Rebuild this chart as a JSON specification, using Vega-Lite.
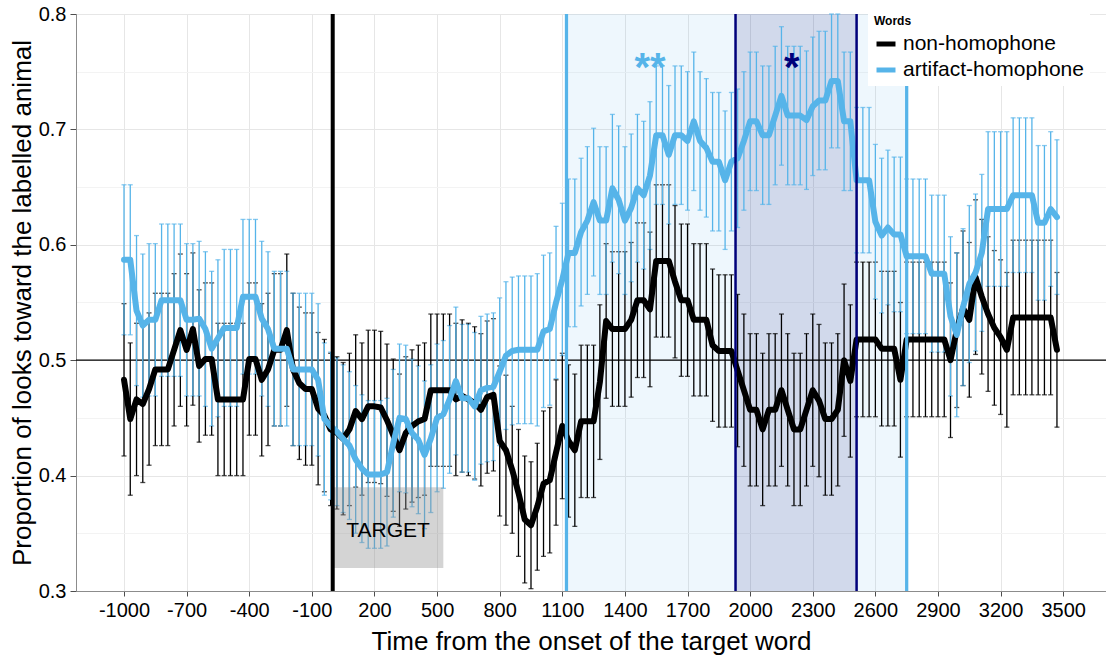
{
  "$schema": "https://vega.github.io/schema/vega-lite/v6.json",
  "width": 1030,
  "height": 577,
  "autosize": {"type": "none"},
  "padding": {"left": 76, "top": 14, "right": 0, "bottom": 65},
  "background": "white",
  "config": {
    "font": "Liberation Sans",
    "view": {"stroke": "#8c8c8c", "strokeWidth": 1},
    "axis": {
      "domainColor": "#8c8c8c",
      "tickColor": "#4d4d4d",
      "labelColor": "#000000",
      "titleColor": "#000000",
      "labelFontSize": 20,
      "titleFontSize": 26,
      "titleFontWeight": "normal",
      "gridWidth": 1
    },
    "legend": {
      "orient": "none",
      "legendX": 792,
      "legendY": -4,
      "fillColor": "white",
      "padding": 6,
      "titleFontSize": 12,
      "titleFontWeight": "bold",
      "titleColor": "#000000",
      "titlePadding": 4,
      "labelFontSize": 21,
      "labelLimit": 0,
      "labelColor": "#000000",
      "labelOffset": 5,
      "symbolType": "stroke",
      "symbolStrokeWidth": 5,
      "symbolSize": 360,
      "rowPadding": 4
    }
  },
  "datasets": {
    "series": [
      {"time": -1000, "words": "non-homophone", "prop": 0.483, "se": 0.066},
      {"time": -970, "words": "non-homophone", "prop": 0.449, "se": 0.066},
      {"time": -940, "words": "non-homophone", "prop": 0.466, "se": 0.066},
      {"time": -910, "words": "non-homophone", "prop": 0.462, "se": 0.068},
      {"time": -880, "words": "non-homophone", "prop": 0.475, "se": 0.066},
      {"time": -850, "words": "non-homophone", "prop": 0.492, "se": 0.066},
      {"time": -820, "words": "non-homophone", "prop": 0.492, "se": 0.066},
      {"time": -790, "words": "non-homophone", "prop": 0.492, "se": 0.066},
      {"time": -760, "words": "non-homophone", "prop": 0.509, "se": 0.066},
      {"time": -730, "words": "non-homophone", "prop": 0.526, "se": 0.066},
      {"time": -700, "words": "non-homophone", "prop": 0.509, "se": 0.066},
      {"time": -670, "words": "non-homophone", "prop": 0.527, "se": 0.066},
      {"time": -640, "words": "non-homophone", "prop": 0.495, "se": 0.066},
      {"time": -610, "words": "non-homophone", "prop": 0.501, "se": 0.066},
      {"time": -580, "words": "non-homophone", "prop": 0.501, "se": 0.066},
      {"time": -550, "words": "non-homophone", "prop": 0.466, "se": 0.066},
      {"time": -520, "words": "non-homophone", "prop": 0.466, "se": 0.066},
      {"time": -490, "words": "non-homophone", "prop": 0.466, "se": 0.066},
      {"time": -460, "words": "non-homophone", "prop": 0.466, "se": 0.066},
      {"time": -430, "words": "non-homophone", "prop": 0.466, "se": 0.066},
      {"time": -400, "words": "non-homophone", "prop": 0.501, "se": 0.066},
      {"time": -370, "words": "non-homophone", "prop": 0.501, "se": 0.066},
      {"time": -340, "words": "non-homophone", "prop": 0.483, "se": 0.066},
      {"time": -310, "words": "non-homophone", "prop": 0.492, "se": 0.066},
      {"time": -280, "words": "non-homophone", "prop": 0.509, "se": 0.066},
      {"time": -250, "words": "non-homophone", "prop": 0.509, "se": 0.066},
      {"time": -220, "words": "non-homophone", "prop": 0.526, "se": 0.066},
      {"time": -190, "words": "non-homophone", "prop": 0.492, "se": 0.066},
      {"time": -160, "words": "non-homophone", "prop": 0.480, "se": 0.066},
      {"time": -130, "words": "non-homophone", "prop": 0.475, "se": 0.066},
      {"time": -100, "words": "non-homophone", "prop": 0.475, "se": 0.066},
      {"time": -70, "words": "non-homophone", "prop": 0.458, "se": 0.066},
      {"time": -40, "words": "non-homophone", "prop": 0.452, "se": 0.066},
      {"time": -10, "words": "non-homophone", "prop": 0.440, "se": 0.066},
      {"time": 20, "words": "non-homophone", "prop": 0.437, "se": 0.066},
      {"time": 50, "words": "non-homophone", "prop": 0.432, "se": 0.066},
      {"time": 80, "words": "non-homophone", "prop": 0.440, "se": 0.066},
      {"time": 110, "words": "non-homophone", "prop": 0.456, "se": 0.066},
      {"time": 140, "words": "non-homophone", "prop": 0.449, "se": 0.066},
      {"time": 170, "words": "non-homophone", "prop": 0.460, "se": 0.066},
      {"time": 200, "words": "non-homophone", "prop": 0.460, "se": 0.066},
      {"time": 230, "words": "non-homophone", "prop": 0.459, "se": 0.066},
      {"time": 260, "words": "non-homophone", "prop": 0.448, "se": 0.066},
      {"time": 290, "words": "non-homophone", "prop": 0.435, "se": 0.066},
      {"time": 320, "words": "non-homophone", "prop": 0.422, "se": 0.066},
      {"time": 350, "words": "non-homophone", "prop": 0.437, "se": 0.066},
      {"time": 380, "words": "non-homophone", "prop": 0.443, "se": 0.066},
      {"time": 410, "words": "non-homophone", "prop": 0.447, "se": 0.066},
      {"time": 440, "words": "non-homophone", "prop": 0.449, "se": 0.066},
      {"time": 470, "words": "non-homophone", "prop": 0.474, "se": 0.066},
      {"time": 500, "words": "non-homophone", "prop": 0.474, "se": 0.066},
      {"time": 530, "words": "non-homophone", "prop": 0.474, "se": 0.066},
      {"time": 560, "words": "non-homophone", "prop": 0.474, "se": 0.066},
      {"time": 590, "words": "non-homophone", "prop": 0.466, "se": 0.066},
      {"time": 620, "words": "non-homophone", "prop": 0.469, "se": 0.066},
      {"time": 650, "words": "non-homophone", "prop": 0.466, "se": 0.066},
      {"time": 680, "words": "non-homophone", "prop": 0.463, "se": 0.066},
      {"time": 710, "words": "non-homophone", "prop": 0.457, "se": 0.066},
      {"time": 740, "words": "non-homophone", "prop": 0.468, "se": 0.066},
      {"time": 770, "words": "non-homophone", "prop": 0.470, "se": 0.066},
      {"time": 800, "words": "non-homophone", "prop": 0.430, "se": 0.065},
      {"time": 830, "words": "non-homophone", "prop": 0.422, "se": 0.065},
      {"time": 860, "words": "non-homophone", "prop": 0.405, "se": 0.055},
      {"time": 890, "words": "non-homophone", "prop": 0.385, "se": 0.055},
      {"time": 920, "words": "non-homophone", "prop": 0.362, "se": 0.055},
      {"time": 950, "words": "non-homophone", "prop": 0.357, "se": 0.055},
      {"time": 980, "words": "non-homophone", "prop": 0.373, "se": 0.055},
      {"time": 1010, "words": "non-homophone", "prop": 0.393, "se": 0.063},
      {"time": 1040, "words": "non-homophone", "prop": 0.396, "se": 0.063},
      {"time": 1070, "words": "non-homophone", "prop": 0.420, "se": 0.063},
      {"time": 1100, "words": "non-homophone", "prop": 0.443, "se": 0.063},
      {"time": 1130, "words": "non-homophone", "prop": 0.430, "se": 0.066},
      {"time": 1160, "words": "non-homophone", "prop": 0.422, "se": 0.066},
      {"time": 1190, "words": "non-homophone", "prop": 0.447, "se": 0.066},
      {"time": 1220, "words": "non-homophone", "prop": 0.447, "se": 0.066},
      {"time": 1250, "words": "non-homophone", "prop": 0.447, "se": 0.066},
      {"time": 1280, "words": "non-homophone", "prop": 0.481, "se": 0.067},
      {"time": 1310, "words": "non-homophone", "prop": 0.534, "se": 0.067},
      {"time": 1340, "words": "non-homophone", "prop": 0.527, "se": 0.067},
      {"time": 1370, "words": "non-homophone", "prop": 0.527, "se": 0.067},
      {"time": 1400, "words": "non-homophone", "prop": 0.527, "se": 0.067},
      {"time": 1430, "words": "non-homophone", "prop": 0.535, "se": 0.067},
      {"time": 1460, "words": "non-homophone", "prop": 0.552, "se": 0.067},
      {"time": 1490, "words": "non-homophone", "prop": 0.552, "se": 0.067},
      {"time": 1520, "words": "non-homophone", "prop": 0.544, "se": 0.067},
      {"time": 1550, "words": "non-homophone", "prop": 0.586, "se": 0.066},
      {"time": 1580, "words": "non-homophone", "prop": 0.586, "se": 0.066},
      {"time": 1610, "words": "non-homophone", "prop": 0.586, "se": 0.066},
      {"time": 1640, "words": "non-homophone", "prop": 0.568, "se": 0.066},
      {"time": 1670, "words": "non-homophone", "prop": 0.552, "se": 0.066},
      {"time": 1700, "words": "non-homophone", "prop": 0.552, "se": 0.066},
      {"time": 1730, "words": "non-homophone", "prop": 0.535, "se": 0.066},
      {"time": 1760, "words": "non-homophone", "prop": 0.535, "se": 0.066},
      {"time": 1790, "words": "non-homophone", "prop": 0.535, "se": 0.066},
      {"time": 1820, "words": "non-homophone", "prop": 0.513, "se": 0.066},
      {"time": 1850, "words": "non-homophone", "prop": 0.508, "se": 0.066},
      {"time": 1880, "words": "non-homophone", "prop": 0.508, "se": 0.066},
      {"time": 1910, "words": "non-homophone", "prop": 0.508, "se": 0.066},
      {"time": 1940, "words": "non-homophone", "prop": 0.491, "se": 0.066},
      {"time": 1970, "words": "non-homophone", "prop": 0.474, "se": 0.066},
      {"time": 2000, "words": "non-homophone", "prop": 0.457, "se": 0.066},
      {"time": 2030, "words": "non-homophone", "prop": 0.457, "se": 0.066},
      {"time": 2060, "words": "non-homophone", "prop": 0.440, "se": 0.066},
      {"time": 2090, "words": "non-homophone", "prop": 0.457, "se": 0.066},
      {"time": 2120, "words": "non-homophone", "prop": 0.457, "se": 0.066},
      {"time": 2150, "words": "non-homophone", "prop": 0.474, "se": 0.066},
      {"time": 2180, "words": "non-homophone", "prop": 0.457, "se": 0.066},
      {"time": 2210, "words": "non-homophone", "prop": 0.440, "se": 0.066},
      {"time": 2240, "words": "non-homophone", "prop": 0.440, "se": 0.066},
      {"time": 2270, "words": "non-homophone", "prop": 0.457, "se": 0.066},
      {"time": 2300, "words": "non-homophone", "prop": 0.474, "se": 0.066},
      {"time": 2330, "words": "non-homophone", "prop": 0.465, "se": 0.066},
      {"time": 2360, "words": "non-homophone", "prop": 0.449, "se": 0.066},
      {"time": 2390, "words": "non-homophone", "prop": 0.449, "se": 0.066},
      {"time": 2420, "words": "non-homophone", "prop": 0.457, "se": 0.066},
      {"time": 2450, "words": "non-homophone", "prop": 0.500, "se": 0.066},
      {"time": 2480, "words": "non-homophone", "prop": 0.482, "se": 0.066},
      {"time": 2510, "words": "non-homophone", "prop": 0.518, "se": 0.067},
      {"time": 2540, "words": "non-homophone", "prop": 0.518, "se": 0.067},
      {"time": 2570, "words": "non-homophone", "prop": 0.518, "se": 0.067},
      {"time": 2600, "words": "non-homophone", "prop": 0.518, "se": 0.067},
      {"time": 2630, "words": "non-homophone", "prop": 0.510, "se": 0.067},
      {"time": 2660, "words": "non-homophone", "prop": 0.510, "se": 0.067},
      {"time": 2690, "words": "non-homophone", "prop": 0.510, "se": 0.067},
      {"time": 2720, "words": "non-homophone", "prop": 0.483, "se": 0.067},
      {"time": 2750, "words": "non-homophone", "prop": 0.518, "se": 0.067},
      {"time": 2780, "words": "non-homophone", "prop": 0.518, "se": 0.067},
      {"time": 2810, "words": "non-homophone", "prop": 0.518, "se": 0.067},
      {"time": 2840, "words": "non-homophone", "prop": 0.518, "se": 0.067},
      {"time": 2870, "words": "non-homophone", "prop": 0.518, "se": 0.067},
      {"time": 2900, "words": "non-homophone", "prop": 0.518, "se": 0.067},
      {"time": 2930, "words": "non-homophone", "prop": 0.518, "se": 0.067},
      {"time": 2960, "words": "non-homophone", "prop": 0.500, "se": 0.067},
      {"time": 2990, "words": "non-homophone", "prop": 0.526, "se": 0.067},
      {"time": 3020, "words": "non-homophone", "prop": 0.545, "se": 0.067},
      {"time": 3050, "words": "non-homophone", "prop": 0.535, "se": 0.067},
      {"time": 3080, "words": "non-homophone", "prop": 0.572, "se": 0.067},
      {"time": 3110, "words": "non-homophone", "prop": 0.555, "se": 0.067},
      {"time": 3140, "words": "non-homophone", "prop": 0.540, "se": 0.067},
      {"time": 3170, "words": "non-homophone", "prop": 0.528, "se": 0.067},
      {"time": 3200, "words": "non-homophone", "prop": 0.520, "se": 0.067},
      {"time": 3230, "words": "non-homophone", "prop": 0.509, "se": 0.067},
      {"time": 3260, "words": "non-homophone", "prop": 0.537, "se": 0.067},
      {"time": 3290, "words": "non-homophone", "prop": 0.537, "se": 0.067},
      {"time": 3320, "words": "non-homophone", "prop": 0.537, "se": 0.067},
      {"time": 3350, "words": "non-homophone", "prop": 0.537, "se": 0.067},
      {"time": 3380, "words": "non-homophone", "prop": 0.537, "se": 0.067},
      {"time": 3410, "words": "non-homophone", "prop": 0.537, "se": 0.067},
      {"time": 3440, "words": "non-homophone", "prop": 0.537, "se": 0.067},
      {"time": 3470, "words": "non-homophone", "prop": 0.509, "se": 0.067},

      {"time": -1000, "words": "artifact-homophone", "prop": 0.587, "se": 0.065},
      {"time": -970, "words": "artifact-homophone", "prop": 0.587, "se": 0.065},
      {"time": -940, "words": "artifact-homophone", "prop": 0.543, "se": 0.065},
      {"time": -910, "words": "artifact-homophone", "prop": 0.530, "se": 0.062},
      {"time": -880, "words": "artifact-homophone", "prop": 0.535, "se": 0.066},
      {"time": -850, "words": "artifact-homophone", "prop": 0.535, "se": 0.066},
      {"time": -820, "words": "artifact-homophone", "prop": 0.552, "se": 0.066},
      {"time": -790, "words": "artifact-homophone", "prop": 0.552, "se": 0.066},
      {"time": -760, "words": "artifact-homophone", "prop": 0.552, "se": 0.066},
      {"time": -730, "words": "artifact-homophone", "prop": 0.552, "se": 0.066},
      {"time": -700, "words": "artifact-homophone", "prop": 0.535, "se": 0.066},
      {"time": -670, "words": "artifact-homophone", "prop": 0.535, "se": 0.066},
      {"time": -640, "words": "artifact-homophone", "prop": 0.536, "se": 0.067},
      {"time": -610, "words": "artifact-homophone", "prop": 0.527, "se": 0.067},
      {"time": -580, "words": "artifact-homophone", "prop": 0.510, "se": 0.067},
      {"time": -550, "words": "artifact-homophone", "prop": 0.519, "se": 0.068},
      {"time": -520, "words": "artifact-homophone", "prop": 0.528, "se": 0.068},
      {"time": -490, "words": "artifact-homophone", "prop": 0.528, "se": 0.068},
      {"time": -460, "words": "artifact-homophone", "prop": 0.528, "se": 0.068},
      {"time": -430, "words": "artifact-homophone", "prop": 0.555, "se": 0.067},
      {"time": -400, "words": "artifact-homophone", "prop": 0.555, "se": 0.067},
      {"time": -370, "words": "artifact-homophone", "prop": 0.555, "se": 0.067},
      {"time": -340, "words": "artifact-homophone", "prop": 0.536, "se": 0.067},
      {"time": -310, "words": "artifact-homophone", "prop": 0.527, "se": 0.067},
      {"time": -280, "words": "artifact-homophone", "prop": 0.510, "se": 0.067},
      {"time": -250, "words": "artifact-homophone", "prop": 0.510, "se": 0.067},
      {"time": -220, "words": "artifact-homophone", "prop": 0.510, "se": 0.067},
      {"time": -190, "words": "artifact-homophone", "prop": 0.492, "se": 0.066},
      {"time": -160, "words": "artifact-homophone", "prop": 0.492, "se": 0.066},
      {"time": -130, "words": "artifact-homophone", "prop": 0.492, "se": 0.066},
      {"time": -100, "words": "artifact-homophone", "prop": 0.492, "se": 0.066},
      {"time": -70, "words": "artifact-homophone", "prop": 0.483, "se": 0.066},
      {"time": -40, "words": "artifact-homophone", "prop": 0.449, "se": 0.066},
      {"time": -10, "words": "artifact-homophone", "prop": 0.443, "se": 0.064},
      {"time": 20, "words": "artifact-homophone", "prop": 0.438, "se": 0.064},
      {"time": 50, "words": "artifact-homophone", "prop": 0.432, "se": 0.064},
      {"time": 80, "words": "artifact-homophone", "prop": 0.426, "se": 0.064},
      {"time": 110, "words": "artifact-homophone", "prop": 0.414, "se": 0.064},
      {"time": 140, "words": "artifact-homophone", "prop": 0.406, "se": 0.064},
      {"time": 170, "words": "artifact-homophone", "prop": 0.401, "se": 0.064},
      {"time": 200, "words": "artifact-homophone", "prop": 0.401, "se": 0.064},
      {"time": 230, "words": "artifact-homophone", "prop": 0.401, "se": 0.064},
      {"time": 260, "words": "artifact-homophone", "prop": 0.403, "se": 0.064},
      {"time": 290, "words": "artifact-homophone", "prop": 0.428, "se": 0.064},
      {"time": 320, "words": "artifact-homophone", "prop": 0.450, "se": 0.064},
      {"time": 350, "words": "artifact-homophone", "prop": 0.449, "se": 0.064},
      {"time": 380, "words": "artifact-homophone", "prop": 0.437, "se": 0.064},
      {"time": 410, "words": "artifact-homophone", "prop": 0.431, "se": 0.064},
      {"time": 440, "words": "artifact-homophone", "prop": 0.418, "se": 0.064},
      {"time": 470, "words": "artifact-homophone", "prop": 0.432, "se": 0.064},
      {"time": 500, "words": "artifact-homophone", "prop": 0.450, "se": 0.064},
      {"time": 530, "words": "artifact-homophone", "prop": 0.453, "se": 0.064},
      {"time": 560, "words": "artifact-homophone", "prop": 0.466, "se": 0.064},
      {"time": 590, "words": "artifact-homophone", "prop": 0.482, "se": 0.064},
      {"time": 620, "words": "artifact-homophone", "prop": 0.467, "se": 0.064},
      {"time": 650, "words": "artifact-homophone", "prop": 0.467, "se": 0.064},
      {"time": 680, "words": "artifact-homophone", "prop": 0.460, "se": 0.064},
      {"time": 710, "words": "artifact-homophone", "prop": 0.474, "se": 0.064},
      {"time": 740, "words": "artifact-homophone", "prop": 0.476, "se": 0.064},
      {"time": 770, "words": "artifact-homophone", "prop": 0.477, "se": 0.064},
      {"time": 800, "words": "artifact-homophone", "prop": 0.490, "se": 0.064},
      {"time": 830, "words": "artifact-homophone", "prop": 0.504, "se": 0.064},
      {"time": 860, "words": "artifact-homophone", "prop": 0.508, "se": 0.064},
      {"time": 890, "words": "artifact-homophone", "prop": 0.509, "se": 0.064},
      {"time": 920, "words": "artifact-homophone", "prop": 0.509, "se": 0.064},
      {"time": 950, "words": "artifact-homophone", "prop": 0.509, "se": 0.064},
      {"time": 980, "words": "artifact-homophone", "prop": 0.509, "se": 0.066},
      {"time": 1010, "words": "artifact-homophone", "prop": 0.525, "se": 0.066},
      {"time": 1040, "words": "artifact-homophone", "prop": 0.527, "se": 0.066},
      {"time": 1070, "words": "artifact-homophone", "prop": 0.550, "se": 0.066},
      {"time": 1100, "words": "artifact-homophone", "prop": 0.570, "se": 0.066},
      {"time": 1130, "words": "artifact-homophone", "prop": 0.593, "se": 0.064},
      {"time": 1160, "words": "artifact-homophone", "prop": 0.593, "se": 0.064},
      {"time": 1190, "words": "artifact-homophone", "prop": 0.611, "se": 0.064},
      {"time": 1220, "words": "artifact-homophone", "prop": 0.621, "se": 0.064},
      {"time": 1250, "words": "artifact-homophone", "prop": 0.637, "se": 0.064},
      {"time": 1280, "words": "artifact-homophone", "prop": 0.621, "se": 0.064},
      {"time": 1310, "words": "artifact-homophone", "prop": 0.621, "se": 0.064},
      {"time": 1340, "words": "artifact-homophone", "prop": 0.649, "se": 0.064},
      {"time": 1370, "words": "artifact-homophone", "prop": 0.639, "se": 0.064},
      {"time": 1400, "words": "artifact-homophone", "prop": 0.621, "se": 0.064},
      {"time": 1430, "words": "artifact-homophone", "prop": 0.632, "se": 0.064},
      {"time": 1460, "words": "artifact-homophone", "prop": 0.649, "se": 0.064},
      {"time": 1490, "words": "artifact-homophone", "prop": 0.643, "se": 0.064},
      {"time": 1520, "words": "artifact-homophone", "prop": 0.660, "se": 0.064},
      {"time": 1550, "words": "artifact-homophone", "prop": 0.695, "se": 0.060},
      {"time": 1580, "words": "artifact-homophone", "prop": 0.695, "se": 0.060},
      {"time": 1610, "words": "artifact-homophone", "prop": 0.678, "se": 0.060},
      {"time": 1640, "words": "artifact-homophone", "prop": 0.695, "se": 0.060},
      {"time": 1670, "words": "artifact-homophone", "prop": 0.695, "se": 0.060},
      {"time": 1700, "words": "artifact-homophone", "prop": 0.690, "se": 0.060},
      {"time": 1730, "words": "artifact-homophone", "prop": 0.707, "se": 0.060},
      {"time": 1760, "words": "artifact-homophone", "prop": 0.690, "se": 0.060},
      {"time": 1790, "words": "artifact-homophone", "prop": 0.684, "se": 0.060},
      {"time": 1820, "words": "artifact-homophone", "prop": 0.672, "se": 0.060},
      {"time": 1850, "words": "artifact-homophone", "prop": 0.672, "se": 0.060},
      {"time": 1880, "words": "artifact-homophone", "prop": 0.656, "se": 0.060},
      {"time": 1910, "words": "artifact-homophone", "prop": 0.672, "se": 0.060},
      {"time": 1940, "words": "artifact-homophone", "prop": 0.675, "se": 0.060},
      {"time": 1970, "words": "artifact-homophone", "prop": 0.690, "se": 0.060},
      {"time": 2000, "words": "artifact-homophone", "prop": 0.707, "se": 0.060},
      {"time": 2030, "words": "artifact-homophone", "prop": 0.707, "se": 0.060},
      {"time": 2060, "words": "artifact-homophone", "prop": 0.695, "se": 0.060},
      {"time": 2090, "words": "artifact-homophone", "prop": 0.695, "se": 0.060},
      {"time": 2120, "words": "artifact-homophone", "prop": 0.712, "se": 0.060},
      {"time": 2150, "words": "artifact-homophone", "prop": 0.729, "se": 0.060},
      {"time": 2180, "words": "artifact-homophone", "prop": 0.712, "se": 0.060},
      {"time": 2210, "words": "artifact-homophone", "prop": 0.712, "se": 0.060},
      {"time": 2240, "words": "artifact-homophone", "prop": 0.712, "se": 0.060},
      {"time": 2270, "words": "artifact-homophone", "prop": 0.708, "se": 0.060},
      {"time": 2300, "words": "artifact-homophone", "prop": 0.720, "se": 0.060},
      {"time": 2330, "words": "artifact-homophone", "prop": 0.725, "se": 0.060},
      {"time": 2360, "words": "artifact-homophone", "prop": 0.725, "se": 0.060},
      {"time": 2390, "words": "artifact-homophone", "prop": 0.742, "se": 0.058},
      {"time": 2420, "words": "artifact-homophone", "prop": 0.742, "se": 0.058},
      {"time": 2450, "words": "artifact-homophone", "prop": 0.707, "se": 0.060},
      {"time": 2480, "words": "artifact-homophone", "prop": 0.707, "se": 0.060},
      {"time": 2510, "words": "artifact-homophone", "prop": 0.656, "se": 0.063},
      {"time": 2540, "words": "artifact-homophone", "prop": 0.656, "se": 0.063},
      {"time": 2570, "words": "artifact-homophone", "prop": 0.656, "se": 0.063},
      {"time": 2600, "words": "artifact-homophone", "prop": 0.620, "se": 0.067},
      {"time": 2630, "words": "artifact-homophone", "prop": 0.608, "se": 0.067},
      {"time": 2660, "words": "artifact-homophone", "prop": 0.615, "se": 0.067},
      {"time": 2690, "words": "artifact-homophone", "prop": 0.609, "se": 0.067},
      {"time": 2720, "words": "artifact-homophone", "prop": 0.609, "se": 0.067},
      {"time": 2750, "words": "artifact-homophone", "prop": 0.590, "se": 0.067},
      {"time": 2780, "words": "artifact-homophone", "prop": 0.590, "se": 0.067},
      {"time": 2810, "words": "artifact-homophone", "prop": 0.590, "se": 0.067},
      {"time": 2840, "words": "artifact-homophone", "prop": 0.590, "se": 0.067},
      {"time": 2870, "words": "artifact-homophone", "prop": 0.575, "se": 0.068},
      {"time": 2900, "words": "artifact-homophone", "prop": 0.575, "se": 0.068},
      {"time": 2930, "words": "artifact-homophone", "prop": 0.575, "se": 0.068},
      {"time": 2960, "words": "artifact-homophone", "prop": 0.538, "se": 0.069},
      {"time": 2990, "words": "artifact-homophone", "prop": 0.522, "se": 0.071},
      {"time": 3020, "words": "artifact-homophone", "prop": 0.546, "se": 0.068},
      {"time": 3050, "words": "artifact-homophone", "prop": 0.566, "se": 0.068},
      {"time": 3080, "words": "artifact-homophone", "prop": 0.576, "se": 0.068},
      {"time": 3110, "words": "artifact-homophone", "prop": 0.593, "se": 0.068},
      {"time": 3140, "words": "artifact-homophone", "prop": 0.631, "se": 0.067},
      {"time": 3170, "words": "artifact-homophone", "prop": 0.631, "se": 0.067},
      {"time": 3200, "words": "artifact-homophone", "prop": 0.631, "se": 0.067},
      {"time": 3230, "words": "artifact-homophone", "prop": 0.631, "se": 0.067},
      {"time": 3260, "words": "artifact-homophone", "prop": 0.643, "se": 0.067},
      {"time": 3290, "words": "artifact-homophone", "prop": 0.643, "se": 0.067},
      {"time": 3320, "words": "artifact-homophone", "prop": 0.643, "se": 0.067},
      {"time": 3350, "words": "artifact-homophone", "prop": 0.643, "se": 0.067},
      {"time": 3380, "words": "artifact-homophone", "prop": 0.619, "se": 0.067},
      {"time": 3410, "words": "artifact-homophone", "prop": 0.619, "se": 0.067},
      {"time": 3440, "words": "artifact-homophone", "prop": 0.631, "se": 0.067},
      {"time": 3470, "words": "artifact-homophone", "prop": 0.624, "se": 0.067}
    ],
    "windows": [
      {"time": 1120, "time_end": 2750, "window": "wide"},
      {"time": 1930, "time_end": 2510, "window": "narrow"}
    ],
    "edges": [
      {"time": 0, "edge": "onset"},
      {"time": 1120, "edge": "wide"},
      {"time": 2750, "edge": "wide"},
      {"time": 1930, "edge": "narrow"},
      {"time": 2510, "edge": "narrow"}
    ],
    "target": [
      {"time": 0, "time_end": 530, "prop": 0.32, "prop_end": 0.39, "centre": 265, "level": 0.352, "label": "TARGET"}
    ],
    "stars": [
      {"time": 1520, "prop": 0.752, "label": "**", "window": "wide"},
      {"time": 2200, "prop": 0.752, "label": "*", "window": "narrow"}
    ],
    "chance": [{"prop": 0.5}]
  },
  "layer": [
    {
      "data": {"name": "windows"},
      "mark": {"type": "rect"},
      "encoding": {
        "x": {"field": "time", "type": "quantitative", "title": "Time from the onset of the target word"},
        "x2": {"field": "time_end"},
        "fill": {"field": "window", "type": "nominal", "legend": null,
          "scale": {"domain": ["wide", "narrow"], "range": ["#56B4E9", "#00006e"]}},
        "fillOpacity": {"field": "window", "type": "nominal", "legend": null,
          "scale": {"domain": ["wide", "narrow"], "range": [0.1, 0.12]}}
      }
    },
    {
      "data": {"name": "chance"},
      "mark": {"type": "rule", "color": "#000000", "strokeWidth": 1.3},
      "encoding": {
        "y": {"field": "prop", "type": "quantitative", "title": "Proportion of looks toward the labelled animal"}
      }
    },
    {
      "data": {"name": "series"},
      "mark": {"type": "errorbar", "ticks": {"size": 5}, "thickness": 1.3},
      "encoding": {
        "x": {"field": "time", "type": "quantitative", "title": "Time from the onset of the target word"},
        "y": {"field": "prop", "type": "quantitative", "title": "Proportion of looks toward the labelled animal"},
        "yError": {"field": "se"},
        "color": {"field": "words", "type": "nominal", "legend": null,
          "scale": {"domain": ["non-homophone", "artifact-homophone"], "range": ["#000000", "#56B4E9"]}}
      }
    },
    {
      "data": {"name": "target"},
      "mark": {"type": "rect", "color": "#8e8e8e", "opacity": 0.38},
      "encoding": {
        "x": {"field": "time", "type": "quantitative", "title": "Time from the onset of the target word"},
        "x2": {"field": "time_end"},
        "y": {"field": "prop", "type": "quantitative", "title": "Proportion of looks toward the labelled animal"},
        "y2": {"field": "prop_end"}
      }
    },
    {
      "data": {"name": "target"},
      "mark": {"type": "text", "fontSize": 21, "color": "#000000", "baseline": "middle", "align": "center"},
      "encoding": {
        "x": {"field": "centre", "type": "quantitative", "title": "Time from the onset of the target word"},
        "y": {"field": "level", "type": "quantitative", "title": "Proportion of looks toward the labelled animal"},
        "text": {"field": "label"}
      }
    },
    {
      "data": {"name": "series"},
      "mark": {"type": "line", "strokeWidth": 6, "strokeJoin": "round", "strokeCap": "round"},
      "encoding": {
        "x": {
          "field": "time", "type": "quantitative",
          "title": "Time from the onset of the target word",
          "scale": {"domain": [-1230, 3705], "nice": false, "zero": false},
          "axis": {
            "values": [-1000, -700, -400, -100, 200, 500, 800, 1100, 1400, 1700, 2000, 2300, 2600, 2900, 3200, 3500],
            "format": "d",
            "labelExpr": "replace(datum.label, '\u2212', '-')",
            "tickSize": 5,
            "labelPadding": 4,
            "titlePadding": 8,
            "labelFlush": false,
            "labelOverlap": false,
            "gridColor": "#e6e6e6"
          }
        },
        "y": {
          "field": "prop", "type": "quantitative",
          "title": "Proportion of looks toward the labelled animal",
          "scale": {"domain": [0.3, 0.8], "nice": false, "zero": false},
          "axis": {
            "values": [0.3, 0.35, 0.4, 0.45, 0.5, 0.55, 0.6, 0.65, 0.7, 0.75, 0.8],
            "format": ".1f",
            "labelExpr": "round(datum.value * 100) % 10 === 0 ? datum.label : ''",
            "tickSize": 6,
            "labelPadding": 4,
            "titlePadding": 3,
            "labelFlush": false,
            "labelOverlap": false,
            "tickOpacity": {"condition": {"test": "round(datum.value * 100) % 10 === 0", "value": 1}, "value": 0},
            "gridColor": {"condition": {"test": "round(datum.value * 100) % 10 === 0", "value": "#e6e6e6"}, "value": "#f3f3f3"}
          }
        },
        "color": {
          "field": "words", "type": "nominal", "title": "Words",
          "scale": {"domain": ["non-homophone", "artifact-homophone"], "range": ["#000000", "#56B4E9"]}
        }
      }
    },
    {
      "data": {"name": "edges"},
      "mark": {"type": "rule"},
      "encoding": {
        "x": {"field": "time", "type": "quantitative", "title": "Time from the onset of the target word"},
        "stroke": {"field": "edge", "type": "nominal", "legend": null,
          "scale": {"domain": ["onset", "wide", "narrow"], "range": ["#000000", "#56B4E9", "#00007a"]}},
        "strokeWidth": {"field": "edge", "type": "nominal", "legend": null,
          "scale": {"domain": ["onset", "wide", "narrow"], "range": [4, 2.5, 3]}}
      }
    },
    {
      "data": {"name": "stars"},
      "mark": {"type": "text", "fontSize": 40, "fontWeight": "bold", "baseline": "middle", "align": "center"},
      "encoding": {
        "x": {"field": "time", "type": "quantitative", "title": "Time from the onset of the target word"},
        "y": {"field": "prop", "type": "quantitative", "title": "Proportion of looks toward the labelled animal"},
        "text": {"field": "label"},
        "color": {"field": "window", "type": "nominal", "legend": null,
          "scale": {"domain": ["wide", "narrow"], "range": ["#56B4E9", "#00007a"]}}
      }
    }
  ],
  "resolve": {"scale": {"color": "independent"}}
}
